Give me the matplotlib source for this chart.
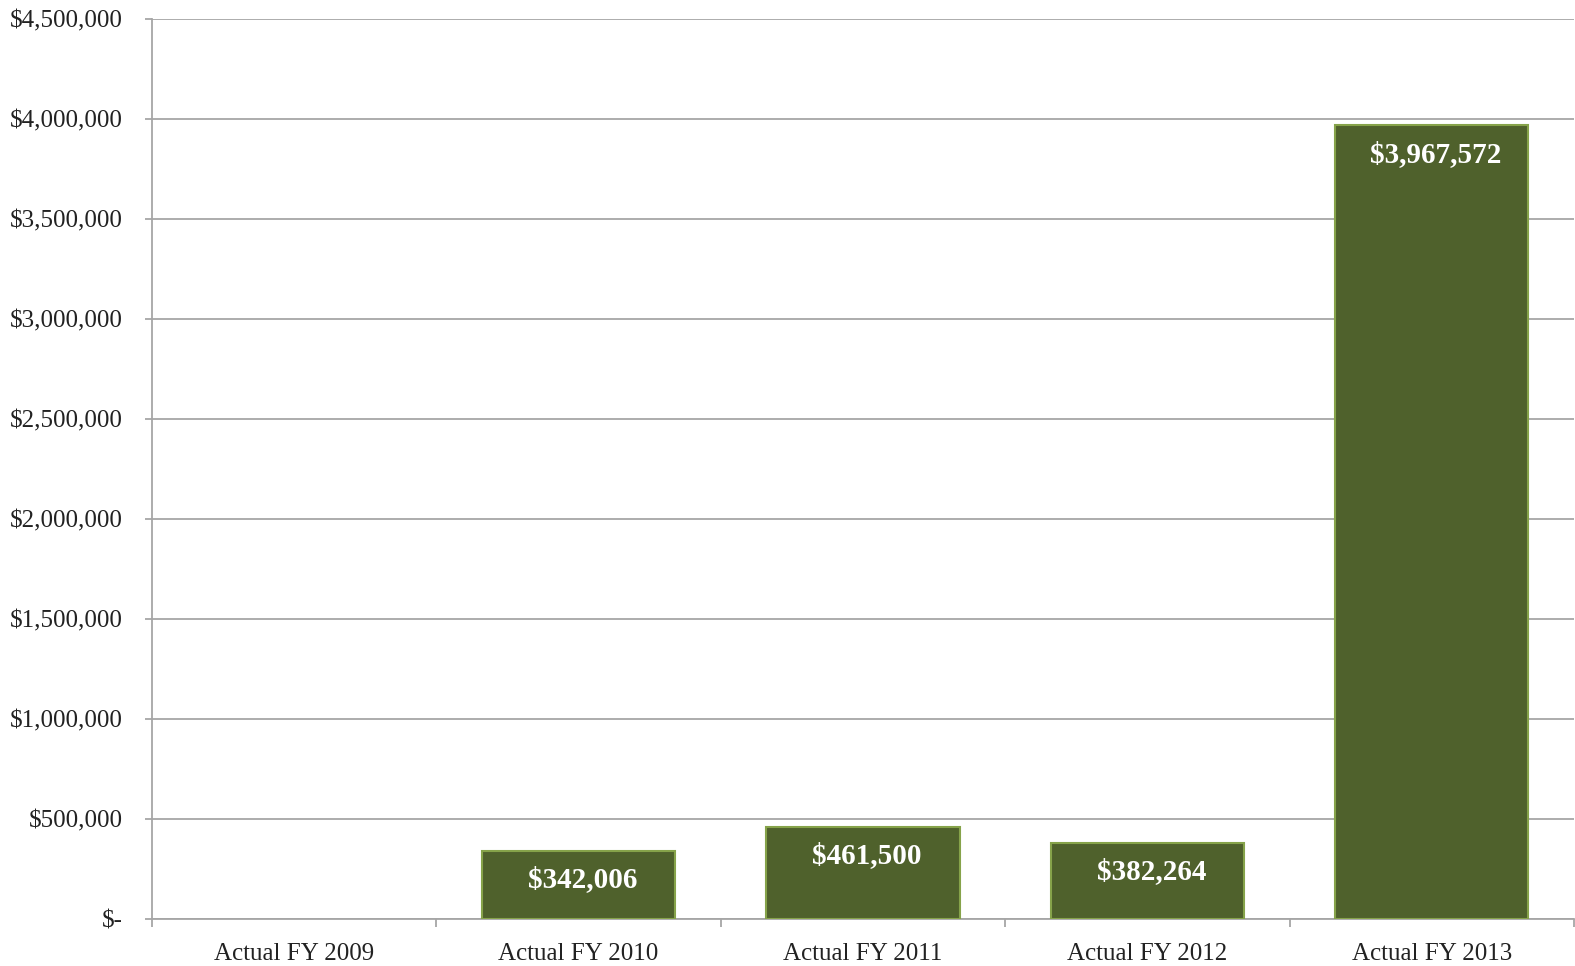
import matplotlib
matplotlib.use('Agg')
import matplotlib.pyplot as plt
import numpy as np
from matplotlib.ticker import FuncFormatter

# fiscal year totals
years = ['Actual FY 2009', 'Actual FY 2010', 'Actual FY 2011',
         'Actual FY 2012', 'Actual FY 2013']
amounts = [0, 342006, 461500, 382264, 3967572]

BAR_COLOR = '#4f612c'
EDGE_COLOR = '#86a34a'
GRID_COLOR = '#a6a6a6'

plt.rcParams['font.family'] = ['Liberation Serif', 'DejaVu Serif']

fig = plt.figure(figsize=(15.75, 9.66), dpi=100)
ax = fig.add_axes([152/1575, 1 - 919/966, (1574-152)/1575, (919-19)/966])

x = np.arange(len(years))
widths = [1.5 if v > 0 else 0 for v in amounts]
bars = ax.bar(x, amounts, width=0.68, color=BAR_COLOR,
              edgecolor=EDGE_COLOR, linewidth=widths, zorder=3)

# value labels inside the top of each non-empty bar
for xi, val in zip(x, amounts):
    if val <= 0:
        continue
    ax.annotate('${:,.0f}'.format(val), xy=(xi, val), xytext=(3, -21),
                textcoords='offset points', ha='center', va='center',
                color='white', fontsize=21, fontweight='bold', zorder=4)

ax.set_xlim(-0.5, len(years) - 0.5)
ax.set_ylim(0, 4500000)
ax.set_yticks(np.arange(0, 4500001, 500000))
ax.yaxis.set_major_formatter(FuncFormatter(
    lambda v, p: '$-' if v == 0 else '${:,.0f}'.format(v)))
ax.yaxis.grid(True, color=GRID_COLOR, linewidth=1.3, zorder=0)
ax.set_axisbelow(True)

# category labels centered, tick marks on the boundaries
ax.set_xticks(x)
ax.set_xticklabels(years)
ax.set_xticks(np.arange(-0.5, len(years)), minor=True)
ax.tick_params(axis='x', which='major', length=0, pad=17, labelsize=18,
               colors='#222222')
ax.tick_params(axis='x', which='minor', length=6, width=1.3, color=GRID_COLOR,
               direction='out')
ax.tick_params(axis='y', length=5, width=1.3, color=GRID_COLOR, pad=16,
               labelsize=18, labelcolor='#222222')

for side in ['top', 'right']:
    ax.spines[side].set_visible(False)
for side in ['left', 'bottom']:
    ax.spines[side].set_color(GRID_COLOR)
    ax.spines[side].set_linewidth(1.3)

fig.savefig('out.png', dpi=100)
